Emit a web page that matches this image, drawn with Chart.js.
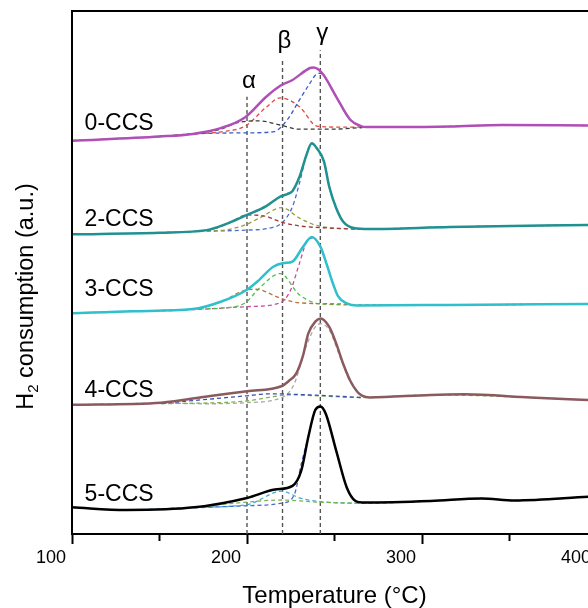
<!DOCTYPE html>
<html>
<head>
<meta charset="utf-8">
<script src="https://cdn.jsdelivr.net/npm/chart.js@4/dist/chart.umd.min.js"></script>
<style>
html,body{margin:0;padding:0;background:#fff;overflow:hidden;width:588px;height:608px;}
#wrap{position:absolute;left:0;top:0;width:620px;height:608px;}
</style>
</head>
<body>
<div id="wrap"><canvas id="c" width="620" height="608"></canvas></div>
<script>
// ---------- data (temperature in °C, H2 consumption in a.u., stacked offsets) ----------
const sampleNames = ['0-CCS','2-CCS','3-CCS','4-CCS','5-CCS'];
const sampleLabelT = 107.2;
const sampleLabelV = [78.7, 60.5, 47.1, 27.8, 7.9];

const xTicksMajor = [100, 200, 300, 400];

const peakNames = ['α','β','γ'];
const peakT = [200, 220.3, 241.9];
const peakTop = [83.6, 91.0, 92.5];

// 0-CCS
const t0 = [100,150,169,185,199,211,219,226,236,238,243,251,259,265,268,287,316,346,395];
const v0 = [75.2,76.0,76.5,77.6,79.7,83.6,85.7,86.8,89.1,89.2,88.1,83.6,79.2,78.0,77.8,77.8,77.9,78.2,78.1];
const t0a = [150,169,185,194,207,219,230,247,266];
const v0a = [76.0,76.5,77.4,78.6,79.0,78.2,77.4,77.4,77.7];
const t0b = [100,150,169,185,199,211,219,230,240,253,266,300,346,395];
const v0b = [75.2,76.0,76.5,76.9,78.0,81.6,83.4,81.7,78.0,77.8,77.8,77.8,78.2,78.1];
const t0c = [150,169,199,215,223,230,236,240,242,244,251,259,265,268];
const v0c = [76.0,76.5,76.7,76.9,79.2,83.0,86.2,88.0,88.1,87.6,83.6,79.2,78.0,77.8];

// 2-CCS
const t2 = [100,150,177,189,200,211,219,223,226,230,234,237,240,244,247,251,255,261,270,316,395];
const v2 = [57.3,57.6,58.1,59.4,61.0,62.7,64.5,65.0,65.6,68.3,72.5,74.7,73.7,71.2,66.4,62.3,59.7,58.5,58.3,58.7,59.1];
const t2a = [150,177,189,200,210,219,230,247,265,316,395];
const v2a = [57.6,58.1,59.3,61.0,60.8,59.7,58.9,58.5,58.3,58.7,59.1];
const t2b = [177,189,199,207,220,230,242,265];
const v2b = [57.9,58.2,59.1,60.4,62.4,60.4,58.8,58.3];
const t2c = [177,199,213,220,226,230,234,237,240,244,247,251,255,261,270];
const v2c = [57.9,58.1,58.5,59.5,62.6,67.1,72.5,74.6,73.7,71.2,66.4,62.3,59.7,58.5,58.3];

// 3-CCS
const t3 = [100,135,169,185,200,207,215,221,226,232,237,242,246,249,252,257,263,316,395];
const v3 = [42.2,42.6,43.0,44.4,46.7,48.6,51.1,51.8,52.1,54.9,56.8,54.9,51.1,48.0,45.5,44.1,43.7,43.8,44.0];
const t3a = [135,169,185,200,205,219,230,253,263,316,395];
const v3a = [42.6,43.0,44.4,46.7,46.8,45.1,44.2,44.0,43.8,43.8,44.0];
const t3b = [169,185,199,207,219,230,242,263];
const v3b = [43.0,43.2,44.2,47.0,49.8,45.7,44.0,43.8];
const t3c = [100,135,169,202,219,225,230,234,237,242,246,249,252,257,263,316,395];
const v3c = [42.2,42.6,42.9,43.5,44.2,46.7,51.8,55.8,56.6,54.9,51.1,48.0,45.5,44.1,43.7,43.8,44.0];

// 4-CCS
const t4 = [100,151,179,200,220,224,228,232,235,239,242,247,251,255,259,263,266,270,305,324,362,395];
const v4 = [24.7,25.1,26.4,27.3,28.3,29.3,30.6,34.1,38.3,40.6,41.2,39.6,36.4,32.5,29.3,27.2,26.4,26.1,26.6,26.7,26.1,25.6];
const t4a = [151,179,199,213,242,265];
const v4a = [25.0,25.8,26.4,26.8,26.5,26.1];
const t4b = [151,199,220,227,242,265,305,362,395];
const v4b = [24.9,25.4,26.5,26.6,26.4,26.1,26.6,26.1,25.6];
const t4c = [100,151,179,199,220,227,233,239,242,247,253,259,265,270];
const v4c = [24.7,25.0,24.9,25.1,26.1,28.7,35.1,39.6,40.2,39.0,34.0,29.1,26.6,26.1];

// 5-CCS
const t5 = [100,131,170,200,216,226,231,235,239,242,245,251,257,262,266,305,334,353,395];
const v5 = [5.1,4.6,5.1,6.9,8.5,9.2,12.1,18.5,23.7,24.4,23.0,15.9,8.9,6.3,6.0,6.3,6.8,6.4,7.1];
const t5a = [170,200,220,241,266,305];
const v5a = [5.1,6.1,6.5,6.1,5.9,6.3];
const t5b = [100,131,170,200,220,230,242,266,305,334,353,395];
const v5b = [5.1,4.6,5.1,5.6,8.2,6.9,6.2,5.9,6.3,6.8,6.4,7.1];
const t5c = [170,200,220,227,231,235,239,242,245,251,257,262,266];
const v5c = [5.0,5.4,5.9,7.5,13.4,18.5,23.7,24.4,23.0,15.9,8.9,6.3,5.9];

// ---------- build datasets ----------
const FONT = '"Liberation Sans", Arial, Helvetica, sans-serif';
const pts = (t, v) => t.map((x, i) => ({x, y: v[i]}));

function mainLine(t, v, color) {
  return {data: pts(t, v), borderColor: color, borderWidth: 2.5, pointRadius: 0,
          cubicInterpolationMode: 'monotone', fill: false, order: 0};
}
function comp(t, v, color) {
  return {data: pts(t, v), borderColor: color, borderWidth: 1.3, borderDash: [4, 3],
          pointRadius: 0, cubicInterpolationMode: 'monotone', fill: false, order: 1};
}

const datasets = [];
peakT.forEach((t, i) => {
  datasets.push({data: [{x: t, y: 0}, {x: t, y: peakTop[i]}], borderColor: '#555',
    borderWidth: 1.4, borderDash: [4, 3], pointRadius: 0, fill: false, order: 2});
});
datasets.push(
  comp(t0a, v0a, '#3a3a3a'), comp(t0b, v0b, '#e8453c'), comp(t0c, v0c, '#3b5bc8'),
  comp(t2a, v2a, '#9c3a3a'), comp(t2b, v2b, '#9a9a3a'), comp(t2c, v2c, '#4a6ad0'),
  comp(t3a, v3a, '#b8743c'), comp(t3b, v3b, '#4cc04c'), comp(t3c, v3c, '#d0489e'),
  comp(t4a, v4a, '#3b4fb0'), comp(t4b, v4b, '#7fb34f'), comp(t4c, v4c, '#a8a8a8'),
  comp(t5a, v5a, '#7fb34f'), comp(t5b, v5b, '#3fa9db'), comp(t5c, v5c, '#4a6ad0'),
  mainLine(t0, v0, '#b04fb5'),
  mainLine(t2, v2, '#1e9190'),
  mainLine(t3, v3, '#2ec0cc'),
  mainLine(t4, v4, '#8a5a5e'),
  mainLine(t5, v5, '#000000')
);

// ---------- decorations plugin ----------
const deco = {
  id: 'deco',
  afterDatasetsDraw(chart) {
    const {ctx, chartArea: a, scales: {x, y}} = chart;
    ctx.save();
    // left axis and top frame
    ctx.strokeStyle = '#000';
    ctx.lineWidth = 2;
    ctx.beginPath();
    ctx.moveTo(a.left, a.bottom);
    ctx.lineTo(a.left, a.top);
    ctx.lineTo(a.right + 5, a.top);
    ctx.stroke();
    // sample labels
    ctx.fillStyle = '#000';
    ctx.font = '23px ' + FONT;
    ctx.textAlign = 'left';
    ctx.textBaseline = 'alphabetic';
    sampleNames.forEach((n, i) => {
      ctx.fillText(n, x.getPixelForValue(sampleLabelT), y.getPixelForValue(sampleLabelV[i]) + 8);
    });
    // peak labels
    ctx.textAlign = 'center';
    ctx.font = '24px ' + FONT;
    const off = [9, 10, 10];
    peakNames.forEach((n, i) => {
      ctx.fillText(n, x.getPixelForValue(peakT[i]) + 2, y.getPixelForValue(peakTop[i]) - off[i]);
    });
    // y-axis title with subscript
    ctx.translate(33, (a.top + a.bottom) / 2 + 24);
    ctx.rotate(-Math.PI / 2);
    ctx.textAlign = 'left';
    ctx.font = '23.5px ' + FONT;
    const w1 = ctx.measureText('H').width;
    const rest = ' consumption (a.u.)';
    const w3 = ctx.measureText(rest).width;
    ctx.font = '15px ' + FONT;
    const w2 = ctx.measureText('2').width;
    const start = -(w1 + w2 + w3) / 2;
    ctx.font = '23.5px ' + FONT;
    ctx.fillText('H', start, 0);
    ctx.font = '15px ' + FONT;
    ctx.fillText('2', start + w1, 5);
    ctx.font = '23.5px ' + FONT;
    ctx.fillText(rest, start + w1 + w2, 0);
    ctx.restore();
  }
};

new Chart(document.getElementById('c'), {
  type: 'line',
  data: {datasets},
  plugins: [deco],
  options: {
    responsive: false,
    animation: false,
    events: [],
    layout: {padding: {left: 72, top: 11, right: 23, bottom: 0}},
    plugins: {legend: {display: false}, tooltip: {enabled: false}, title: {display: false}},
    scales: {
      x: {
        type: 'linear', min: 100, max: 400,
        afterFit(s) { s.height = 74; },
        border: {display: true, color: '#000', width: 2},
        grid: {
          display: true, drawOnChartArea: false, drawTicks: true, tickLength: 10,
          tickColor: '#000', tickWidth: 2,
          tickBorderDash: (c) => (c.tick && xTicksMajor.includes(c.tick.value)) ? [] : [6, 40]
        },
        ticks: {
          stepSize: 50, autoSkip: false, maxRotation: 0, padding: 3, labelOffset: -21,
          color: '#000', font: {family: FONT, size: 18},
          callback: (v) => xTicksMajor.includes(v) ? String(v) : ''
        },
        title: {display: true, text: 'Temperature (°C)', color: '#000',
                font: {family: FONT, size: 24, lineHeight: 1}, padding: {top: 0, bottom: 0}}
      },
      y: {type: 'linear', min: 0, max: 100, display: false}
    }
  }
});
</script>
</body>
</html>
